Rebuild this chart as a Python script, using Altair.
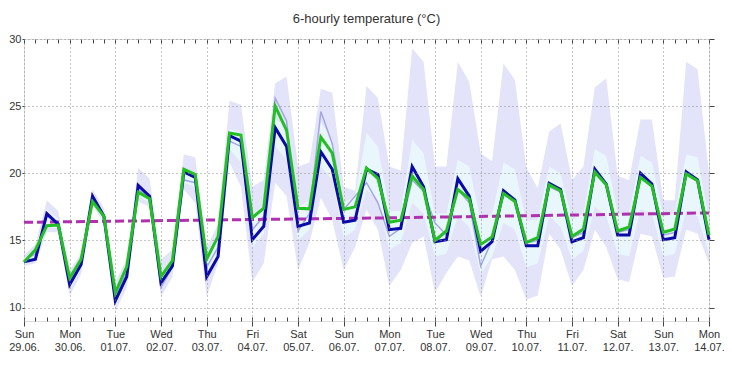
import json
import altair as alt
import pandas as pd

title_text = "6-hourly temperature (°C)"

day_labels = ["Sun", "Mon", "Tue", "Wed", "Thu", "Fri", "Sat", "Sun",
              "Mon", "Tue", "Wed", "Thu", "Fri", "Sat", "Sun", "Mon"]
date_labels = ["29.06.", "30.06.", "01.07.", "02.07.", "03.07.", "04.07.", "05.07.", "06.07.",
               "07.07.", "08.07.", "09.07.", "10.07.", "11.07.", "12.07.", "13.07.", "14.07."]

# forecast steps, hours since Sun 29.06. 00:00
hours = list(range(0, 361, 6))
day_hours = list(range(0, 361, 24))

blue = [13.4, 13.6, 17.0, 16.2,
        11.7, 13.2, 18.3, 16.8,
        10.5, 12.3, 19.1, 18.3,
        11.85, 13.1, 20.1, 19.7,
        12.3, 13.8, 22.8, 22.4,
        15.05, 16.05, 23.4, 22.0,
        16.05, 16.3, 21.6, 20.3,
        16.35, 16.5, 20.3, 19.9,
        15.8, 15.9, 20.5, 19.0,
        14.9, 15.05, 19.6, 18.3,
        14.2, 14.9, 18.7, 18.0,
        14.6, 14.6, 19.25, 18.8,
        14.9, 15.2, 20.3, 19.2,
        15.4, 15.4, 20.0, 19.2,
        15.05, 15.2, 20.1, 19.5,
        15.05]

green = [13.4, 14.3, 16.1, 16.15,
         12.2, 13.6, 17.9, 16.8,
         11.1, 13.05, 18.6, 18.1,
         12.3, 13.5, 20.3, 19.9,
         13.6, 15.3, 23.0, 22.85,
         16.7, 17.4, 25.0, 23.2,
         17.4, 17.35, 22.7, 21.5,
         17.3, 17.5, 20.4, 19.6,
         16.35, 16.5, 19.8, 18.8,
         15.0, 15.7, 18.8, 18.1,
         14.7, 15.25, 18.5, 17.9,
         14.85, 15.2, 19.15, 18.7,
         15.3, 15.85, 20.1, 19.15,
         15.7, 16.0, 19.7, 19.05,
         15.6, 15.85, 19.95, 19.45,
         15.4]

ens_mean = [13.5, 14.0, 16.8, 16.3,
            12.0, 13.3, 18.0, 16.7,
            10.8, 12.6, 18.8, 18.2,
            11.5, 13.0, 19.5, 19.3,
            13.0, 14.5, 22.4, 22.0,
            15.8, 16.8, 25.6, 23.9,
            15.7, 17.0, 24.6, 22.2,
            17.3, 18.3, 19.3, 17.8,
            15.3, 15.9, 19.5, 18.65,
            16.3, 15.4, 18.8, 17.8,
            13.1, 15.0, 18.5, 17.9,
            14.8, 15.0, 19.0, 18.6,
            15.2, 15.6, 20.0, 19.1,
            15.6, 15.8, 19.7, 19.0,
            15.4, 15.6, 19.9, 19.4,
            15.3]

outer_hi = [13.9, 14.7, 18.0, 17.2,
            12.8, 14.0, 18.8, 17.4,
            11.9, 13.6, 20.4, 19.6,
            13.6, 14.3, 21.4, 21.2,
            14.5, 16.2, 25.4, 25.1,
            19.0, 19.5, 26.7, 27.2,
            20.5, 20.8, 26.3, 26.0,
            19.0, 18.7, 26.5, 25.6,
            20.5, 20.2, 29.3, 28.3,
            20.5, 20.5, 28.3, 26.8,
            21.5, 20.9, 28.2, 26.95,
            20.4, 18.9, 23.1, 23.7,
            19.5, 20.5, 26.4, 27.05,
            19.8, 19.5, 24.0, 24.0,
            18.0, 18.0, 28.3, 27.75,
            20.0]

outer_lo = [13.1, 13.3, 15.6, 15.6,
            10.9, 12.5, 17.6, 16.3,
            9.7, 11.5, 17.9, 17.5,
            10.8, 12.3, 18.8, 17.8,
            10.8, 13.3, 20.8, 19.0,
            11.9, 13.3, 19.3, 18.3,
            12.8, 14.8, 18.2, 16.5,
            12.8, 14.5, 17.3, 15.8,
            11.6, 12.8, 14.8, 15.3,
            11.1, 12.6, 13.8, 13.5,
            10.8, 13.6, 13.8, 12.8,
            10.6, 10.9, 15.5, 14.3,
            11.6, 12.8, 15.8, 14.5,
            12.1, 11.9, 15.5, 15.3,
            12.2, 12.3, 15.8, 15.5,
            13.3]

inner_hi = [13.6, 14.4, 17.3, 16.6,
            12.4, 13.7, 18.3, 16.9,
            11.2, 13.0, 19.2, 18.5,
            12.3, 13.6, 20.3, 20.0,
            13.6, 15.3, 23.3, 23.0,
            16.8, 17.5, 24.0, 23.5,
            17.5, 18.0, 23.8, 22.5,
            17.8, 18.3, 23.0, 22.0,
            17.2, 17.2, 22.5, 21.5,
            17.0, 17.0, 21.0, 20.5,
            16.5, 17.0, 20.8, 20.3,
            16.5, 16.5, 20.5, 20.0,
            16.5, 17.0, 21.8, 21.3,
            17.0, 17.0, 21.3, 20.8,
            16.8, 17.0, 21.4, 21.2,
            16.5]

inner_lo = [13.2, 13.6, 16.0, 15.9,
            11.3, 12.9, 17.8, 16.5,
            10.0, 12.0, 18.3, 17.8,
            11.4, 12.8, 19.3, 19.0,
            12.0, 13.8, 21.8, 20.8,
            14.5, 15.5, 22.0, 21.0,
            15.0, 15.8, 20.5, 19.5,
            15.2, 15.8, 18.8, 18.0,
            14.3, 14.8, 17.8, 17.0,
            13.8, 14.0, 16.8, 16.0,
            12.5, 13.8, 16.3, 15.8,
            13.0, 13.3, 16.8, 16.0,
            13.6, 14.2, 17.5, 16.8,
            14.0, 13.8, 17.3, 17.0,
            13.8, 14.0, 17.2, 16.8,
            14.0]

clim_hours = [0, 192, 360]
clim = [16.35, 16.68, 17.05]

df = pd.DataFrame({
    "h": hours, "blue": blue, "green": green, "mean": ens_mean,
    "ohi": outer_hi, "olo": outer_lo, "ihi": inner_hi, "ilo": inner_lo,
})
clim_df = pd.DataFrame({"h": clim_hours, "clim": clim})

FONT = "Liberation Sans"
x_scale = alt.Scale(domain=[0, 360], nice=False, zero=False)
y_scale = alt.Scale(domain=[9, 30], nice=False, zero=False)

label_expr = "[{}[datum.value / 24], {}[datum.value / 24]]".format(
    json.dumps(day_labels), json.dumps(date_labels))

main_x_axis = alt.Axis(values=day_hours, labelExpr=label_expr, grid=True,
                       gridColor="#8a8a8a", gridDash=[1, 3], gridWidth=1,
                       tickSize=5, tickColor="#444", domain=False,
                       labelFont=FONT, labelFontSize=11, labelColor="#333",
                       labelPadding=2, labelLineHeight=13, labelFlush=False,
                       labelOverlap=False, title=None, zindex=1)
main_y_axis = alt.Axis(values=[10, 15, 20, 25, 30], grid=True,
                       gridColor="#8a8a8a", gridDash=[1, 3], gridWidth=1,
                       tickSize=2, tickColor="#444", domain=False,
                       labelFont=FONT, labelFontSize=11, labelColor="#333",
                       labelPadding=1, title=None, zindex=1)

base = alt.Chart(df)

outer = base.mark_area(color="#e3e3f9").encode(
    x=alt.X("h:Q", scale=x_scale, axis=main_x_axis),
    y=alt.Y("olo:Q", scale=y_scale, axis=main_y_axis),
    y2="ohi:Q",
)
inner = base.mark_area(color="#e9f7fd").encode(
    x=alt.X("h:Q", scale=x_scale, axis=None),
    y=alt.Y("ilo:Q", scale=y_scale, axis=None),
    y2="ihi:Q",
)
mean_line = base.mark_line(color="#a4a6e4", strokeWidth=1.5).encode(
    x=alt.X("h:Q", scale=x_scale, axis=None),
    y=alt.Y("mean:Q", scale=y_scale, axis=None),
)
clim_line = alt.Chart(clim_df).mark_line(color="#b030b0", strokeWidth=3, strokeDash=[9, 4]).encode(
    x=alt.X("h:Q", scale=x_scale, axis=None),
    y=alt.Y("clim:Q", scale=y_scale, axis=None),
)
blue_line = base.mark_line(color="#0a0aa8", strokeWidth=3).encode(
    x=alt.X("h:Q", scale=x_scale, axis=None),
    y=alt.Y("blue:Q", scale=y_scale, axis=None),
)
green_line = base.mark_line(color="#22c022", strokeWidth=3).encode(
    x=alt.X("h:Q", scale=x_scale, axis=None),
    y=alt.Y("green:Q", scale=y_scale, axis=None),
)

top_ticks = base.mark_point(opacity=0).encode(
    x=alt.X("h:Q", scale=x_scale,
            axis=alt.Axis(orient="top", values=hours, labels=False, tickSize=4, offset=-4,
                          domain=False, grid=False, tickColor="#444", title=None)),
    y=alt.Y("blue:Q", scale=y_scale, axis=None),
)
bottom_ticks = base.mark_point(opacity=0).encode(
    x=alt.X("h:Q", scale=x_scale,
            axis=alt.Axis(orient="bottom", values=hours, labels=False, tickSize=4, offset=-4,
                          domain=False, grid=False, tickColor="#444", title=None)),
    y=alt.Y("blue:Q", scale=y_scale, axis=None),
)
right_ticks = base.mark_point(opacity=0).encode(
    x=alt.X("h:Q", scale=x_scale, axis=None),
    y=alt.Y("blue:Q", scale=y_scale,
            axis=alt.Axis(orient="right", values=[10, 15, 20, 25, 30], labels=False,
                          tickSize=5, domain=False, grid=False, tickColor="#444", title=None)),
)

chart = alt.layer(
    outer, inner, mean_line, clim_line, blue_line, green_line,
    top_ticks, bottom_ticks, right_ticks,
).resolve_scale(x="independent", y="independent").properties(
    width=685, height=282,
    title=alt.TitleParams(title_text, font=FONT, fontSize=13, fontWeight="normal",
                          color="#333", offset=7, anchor="middle"),
    autosize=alt.AutoSizeParams(type="none"),
    padding={"left": 16, "top": 31, "right": 15, "bottom": 42},
).configure_view(stroke="#5a5a5a", strokeWidth=2).configure(background="white")

chart.save("out.html", embed_options={"renderer": "svg", "actions": False})
